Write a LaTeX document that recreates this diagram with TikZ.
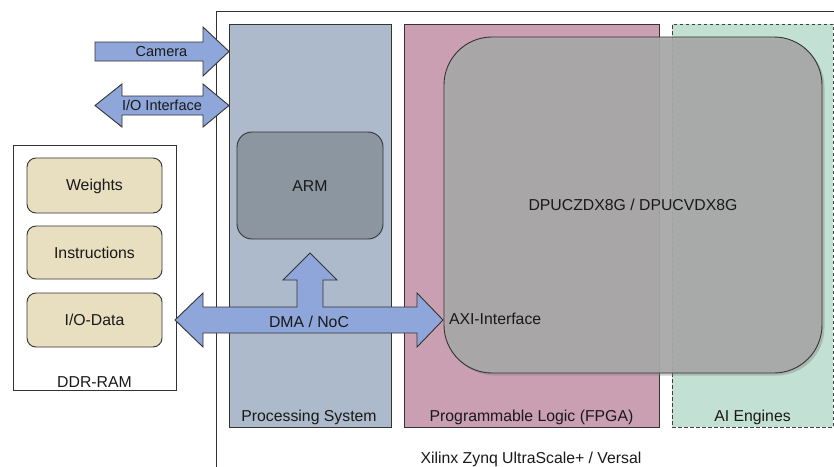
\documentclass[tikz,border=0pt]{standalone}
\usepackage{fontspec}
\setmainfont{Liberation Sans}
\usetikzlibrary{shadows}
\definecolor{psfill}{HTML}{ADBACB}
\definecolor{plfill}{HTML}{C99FB1}
\definecolor{aifill}{HTML}{C3E0D5}
\definecolor{dpufill}{HTML}{A9A9A9}
\definecolor{armfill}{HTML}{8B96A0}
\definecolor{memfill}{HTML}{E8DFC1}
\definecolor{arrfill}{HTML}{8FA6DA}
\definecolor{edge}{HTML}{333333}
\begin{document}
\begin{tikzpicture}[x=1pt,y=-1pt,
  every node/.style={font=\fontsize{15.8}{19}\selectfont, text=black!90, inner sep=0pt, outer sep=0pt},
  region/.style={draw=edge, line width=0.9pt, minimum width=#1},
  blk/.style={draw=edge, line width=0.9pt},
  membox/.style={draw=edge, line width=0.9pt, fill=memfill, rounded corners=9pt, minimum width=135pt},
  bigarrow/.style={draw=edge, line width=0.9pt, fill=arrfill, line join=miter},
  lbl/.style={anchor=base},
  small/.style={font=\fontsize{14.5}{17}\selectfont}]
\useasboundingbox (0,0) rectangle (834,466);
\clip (0,0) rectangle (834,466);

% outer device frame
\draw[draw=edge, line width=0.9pt] (216,480) -- (216,11) -- (850,11);

% regions
\node[region=162pt, minimum height=403pt, fill=psfill] (ps) at (310,225.5) {};
\node[region=255pt, minimum height=403pt, fill=plfill] (pl) at (531.5,225.5) {};
\node[draw=black!75, line width=1pt, dash pattern=on 3.5pt off 2.5pt, fill=aifill,
      minimum width=161pt, minimum height=403pt] (ai) at (752.5,225.5) {};

% DPU
\node[draw=edge, line width=0.9pt, fill=dpufill, fill opacity=0.9, rounded corners=48pt,
      minimum width=378pt, minimum height=336pt,
      drop shadow={shadow xshift=2.5pt, shadow yshift=-2.5pt, opacity=0.4}] (dpu) at (633,205) {};
\node[lbl] (dputxt) at (633,210.7) {DPUCZDX8G / DPUCVDX8G};

% ARM
\node[blk, fill=armfill, rounded corners=15pt, minimum width=146pt, minimum height=107pt] (arm) at (310,185.5) {};
\node[lbl] (armtxt) at (310,191) {ARM};

% DDR
\node[blk, fill=white, minimum width=163pt, minimum height=245pt] (ddr) at (94.5,267.5) {};
\node[membox, minimum height=55pt] (weights) at (94.5,185.5) {};
\node[membox, minimum height=53pt] (instr) at (94.5,252.5) {};
\node[membox, minimum height=54pt] (iodata) at (94.5,320) {};
\node[lbl] (wtxt) at (94.5,190.7) {Weights};
\node[lbl] (itxt) at (94.5,258.3) {Instructions};
\node[lbl] (dtxt) at (94.5,325) {I/O-Data};
\node[lbl] (ddrtxt) at (94.5,387) {DDR-RAM};

% Camera arrow
\draw[bigarrow] (95,42) -- (203,42) -- (203,27) -- (229,51.5) -- (203,76) -- (203,61) -- (95,61) -- cycle;
\node[lbl, small] (camtxt) at (161.5,56.7) {Camera};

% I/O interface arrow
\draw[bigarrow] (95,105.5) -- (122,84) -- (122,96) -- (203,96) -- (203,84) -- (229,105.5)
  -- (203,127) -- (203,115) -- (122,115) -- (122,127) -- cycle;
\node[lbl, small] (iotxt) at (162,110) {I/O Interface};

% DMA / NoC arrow
\draw[bigarrow] (175,320) -- (203,293) -- (203,307) -- (297,307) -- (297,280) -- (283,280)
  -- (310,253) -- (337,280) -- (323,280) -- (323,307) -- (417,307) -- (417,293) -- (443,320)
  -- (417,347) -- (417,333) -- (203,333) -- (203,347) -- cycle;
\node[lbl] (dmatxt) at (309,327) {DMA / NoC};
\node[lbl, anchor=base west] (axitxt) at (449,324.3) {AXI-Interface};

% region labels
\node[lbl] (pstxt) at (309,421) {Processing System};
\node[lbl] (pltxt) at (531.5,421) {Programmable Logic (FPGA)};
\node[lbl] (aitxt) at (752.5,421) {AI Engines};
\node[lbl] (chiptxt) at (531,463) {Xilinx Zynq UltraScale+ / Versal};
\end{tikzpicture}
\end{document}
